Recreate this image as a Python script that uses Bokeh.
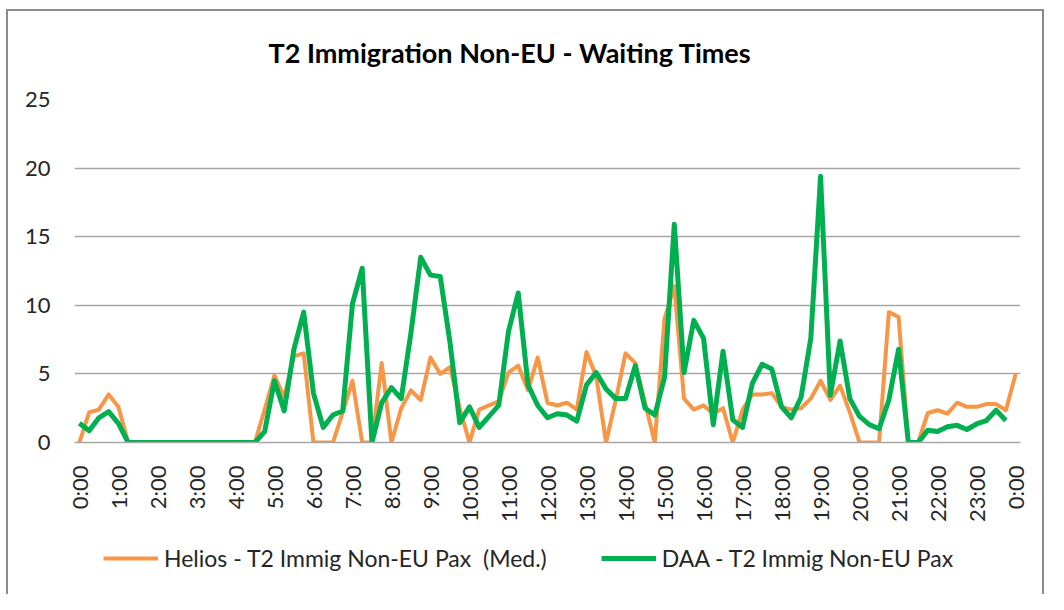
import math
import numpy as np
from bokeh.plotting import figure
from bokeh.layouts import column
from bokeh.models import Range1d, FixedTicker, Legend, LegendItem
from bokeh.embed import file_html
from bokeh.resources import INLINE

# 15-minute slots over the day (0 = 0:00 ... 96 = next 0:00)
helios_slot = list(range(97))
daa_slot = list(range(96))

hour_labels = ["0:00", "1:00", "2:00", "3:00", "4:00", "5:00", "6:00", "7:00",
               "8:00", "9:00", "10:00", "11:00", "12:00", "13:00", "14:00",
               "15:00", "16:00", "17:00", "18:00", "19:00", "20:00", "21:00",
               "22:00", "23:00", "0:00"]

helios = [0, 2.2, 2.4, 3.5, 2.6, 0, 0, 0, 0, 0, 0, 0, 0, 0, 0, 0, 0, 0, 0,
          2.4, 4.9, 3.3, 6.3, 6.5, 0, 0, 0, 2.2, 4.5, 0, 0, 5.8, 0, 2.5,
          3.8, 3.1, 6.2, 5.0, 5.5, 2.5, 0, 2.4, 2.7, 3.0, 5.1, 5.6, 3.8,
          6.2, 2.9, 2.7, 2.9, 2.4, 6.6, 4.8, 0, 3.1, 6.5, 5.8, 2.9, 0,
          9.0, 11.4, 3.2, 2.4, 2.7, 2.1, 2.5, 0, 2.4, 3.5, 3.5, 3.6, 2.6,
          2.4, 2.5, 3.2, 4.5, 3.1, 4.15, 2.2, 0, 0, 0, 9.5, 9.15, 0, 0,
          2.15, 2.35, 2.1, 2.9, 2.6, 2.6, 2.8, 2.8, 2.35, 5.0]

daa = [1.4, 0.85, 1.8, 2.25, 1.4, 0, 0, 0, 0, 0, 0, 0, 0, 0, 0, 0, 0, 0, 0,
       0.8, 4.5, 2.3, 6.8, 9.5, 3.6, 1.1, 2.0, 2.3, 10.1, 12.7, 0, 2.9,
       4.0, 3.2, 8.0, 13.5, 12.2, 12.1, 7.3, 1.45, 2.6, 1.1, 1.9, 2.7,
       8.1, 10.9, 4.2, 2.7, 1.8, 2.1, 2.0, 1.55, 4.2, 5.1, 3.9, 3.2, 3.2,
       5.6, 2.5, 2.0, 4.75, 15.9, 5.1, 8.9, 7.6, 1.3, 6.65, 1.65, 1.1,
       4.3, 5.7, 5.35, 2.6, 1.8, 3.3, 7.6, 19.4, 3.45, 7.4, 3.2, 1.9, 1.3,
       1.0, 3.1, 6.8, 0, 0, 0.9, 0.8, 1.15, 1.25, 0.95, 1.35, 1.6, 2.35,
       1.6]

series_names = ["Helios - T2 Immig Non-EU Pax  (Med.)", "DAA - T2 Immig Non-EU Pax"]
colors = ["#F79646", "#00B050"]
widths = [4, 5]

FONT = "Lato"
TXT = "#262626"
GRID = "#a6a6a6"
BORDER = "#8c8c8c"
W = 1048
LEFT, RIGHT = 74, 28
FW = W - LEFT - RIGHT

# ---------------- main chart ----------------
p = figure(width=W, height=530, output_backend="svg", toolbar_location=None,
           x_range=Range1d(-0.5, 96.5), y_range=Range1d(0, 25),
           min_border_left=LEFT, min_border_right=RIGHT, min_border_top=99,
           min_border_bottom=88)
p.frame_width = FW
p.frame_height = 343
p.outline_line_color = None
p.border_fill_color = None
p.background_fill_color = "white"

p.title.text = "T2 Immigration Non-EU  - Waiting Times"
p.title.text_font = FONT
p.title.text_font_size = "27px"
p.title.text_font_style = "bold"
p.title.text_color = "#000000"
p.title.align = "left"
p.title.offset = 194
p.title.standoff = 62

p.line(helios_slot, helios, line_color=colors[0], line_width=widths[0], line_join="round")
p.line(daa_slot, daa, line_color=colors[1], line_width=widths[1], line_join="round")

p.xaxis.ticker = FixedTicker(ticks=list(range(0, 97, 4)))
p.xaxis.major_label_overrides = {t: lab for t, lab in zip(range(0, 97, 4), hour_labels)}
p.xaxis.major_label_orientation = math.pi / 2
p.xaxis.major_label_standoff = 17
p.xaxis.axis_line_color = GRID
p.xaxis.axis_line_width = 1.5
p.xaxis.major_tick_line_color = None
p.xaxis.minor_tick_line_color = None
p.xaxis.major_label_text_font = FONT
p.xaxis.major_label_text_font_size = "22px"
p.xaxis.major_label_text_color = TXT

p.yaxis.ticker = FixedTicker(ticks=[0, 5, 10, 15, 20, 25])
p.yaxis.axis_line_color = None
p.yaxis.major_tick_line_color = None
p.yaxis.minor_tick_line_color = None
p.yaxis.major_label_standoff = 18
p.yaxis.major_label_text_font = FONT
p.yaxis.major_label_text_font_size = "22px"
p.yaxis.major_label_text_color = TXT

p.xgrid.grid_line_color = None
p.ygrid.grid_line_color = GRID
p.ygrid.grid_line_width = 1.5

# ---------------- legend strip (same frame columns as the chart) ----------------
lf = figure(width=W, height=64, output_backend="svg", toolbar_location=None,
            x_range=Range1d(0, FW), y_range=Range1d(0, 64),
            x_axis_type=None, y_axis_type=None,
            min_border_left=LEFT, min_border_right=RIGHT,
            min_border_top=0, min_border_bottom=0)
lf.frame_width = FW
lf.frame_height = 64
lf.outline_line_color = None
lf.border_fill_color = None
lf.background_fill_color = None
lf.grid.grid_line_color = None
k1 = lf.line(helios_slot, helios, line_color=colors[0], line_width=widths[0], visible=False)
k2 = lf.line(daa_slot, daa, line_color=colors[1], line_width=widths[1], visible=False)

legend = Legend(items=[LegendItem(label=series_names[0], renderers=[k1]),
                       LegendItem(label=series_names[1], renderers=[k2])],
                orientation="horizontal", location=(29, 22),
                padding=0, margin=0, spacing=54, glyph_width=55,
                label_standoff=6, border_line_color=None,
                background_fill_alpha=0, inactive_fill_alpha=0,
                label_text_font=FONT, label_text_font_size="23px",
                label_text_color=TXT)
lf.add_layout(legend, "center")

g = f"linear-gradient({BORDER},{BORDER})"
layout = column(p, lf, spacing=0)
layout.styles = {
    "background-color": "white",
    "background-image": f"{g}, {g}, {g}",
    "background-size": "2px 100%, 1038px 2px, 2px 100%",
    "background-position": "6px 9px, 6px 9px, 1042px 9px",
    "background-repeat": "no-repeat",
}

open("out.html", "w").write(file_html(layout, INLINE))
